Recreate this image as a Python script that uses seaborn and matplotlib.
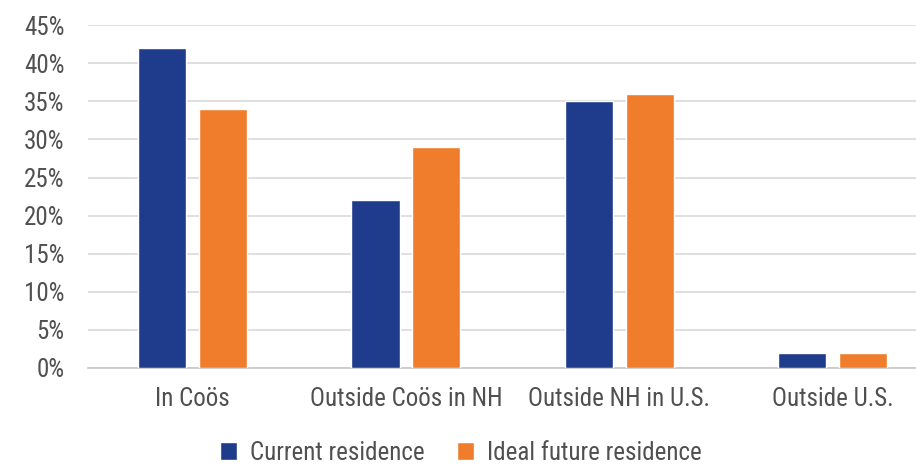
import matplotlib
matplotlib.use("Agg")
import matplotlib.pyplot as plt
from matplotlib import font_manager
import seaborn as sns
import pandas as pd

# data
categories = ["In Coös", "Outside Coös in NH", "Outside NH in U.S.", "Outside U.S."]
current = [42, 22, 35, 2]
ideal = [34, 29, 36, 2]
series = ["Current residence", "Ideal future residence"]
colors = ["#1f3b8c", "#ef7d2b"]
yticks = [0, 5, 10, 15, 20, 25, 30, 35, 40, 45]

df = pd.DataFrame({
    "category": categories * 2,
    "value": current + ideal,
    "series": [series[0]] * len(categories) + [series[1]] * len(categories),
})

sns.set_style("white")
# pick a narrow face if there is one
names = {f.name for f in font_manager.fontManager.ttflist}
narrow = [n for n in ["Liberation Sans Narrow", "Roboto Condensed", "Open Sans Condensed",
                      "DejaVu Sans Condensed"] if n in names]
plt.rcParams["font.family"] = narrow + ["DejaVu Sans"]
plt.rcParams["font.stretch"] = "condensed"
text_col = "#505050"

fig = plt.figure(figsize=(9.16, 4.67), dpi=100)
ax = fig.add_axes([0.096, 0.212, 0.904, 0.734])

sns.barplot(data=df, x="category", y="value", hue="series", palette=colors,
            width=0.57, gap=0.21, ax=ax, saturation=1, zorder=3)

ax.set_ylim(0, 45)
ax.set_xlim(-0.49, 3.39)
ax.set_yticks(yticks)
ax.set_yticklabels([f"{t}%" for t in yticks])
ax.grid(axis="y", color="#d9d9d9", linewidth=1.2, zorder=0)
ax.set_axisbelow(True)
for s in ["top", "right", "left"]:
    ax.spines[s].set_visible(False)
ax.spines["bottom"].set_color("#c8c8c8")
ax.spines["bottom"].set_linewidth(1.2)
ax.tick_params(axis="both", length=0, labelsize=18, colors=text_col)
ax.tick_params(axis="x", pad=14)
ax.tick_params(axis="y", pad=17)
ax.set_xlabel("")
ax.set_ylabel("")

ax.legend_.remove()
handles, labels = ax.get_legend_handles_labels()
leg = fig.legend(handles, labels, loc="center", bbox_to_anchor=(0.503, 0.03), ncol=2,
                 frameon=False, fontsize=18, handlelength=0.7, handleheight=0.7,
                 columnspacing=1.3, handletextpad=0.5, borderaxespad=0)
for t in leg.get_texts():
    t.set_color(text_col)

fig.savefig("out.png", dpi=100)
